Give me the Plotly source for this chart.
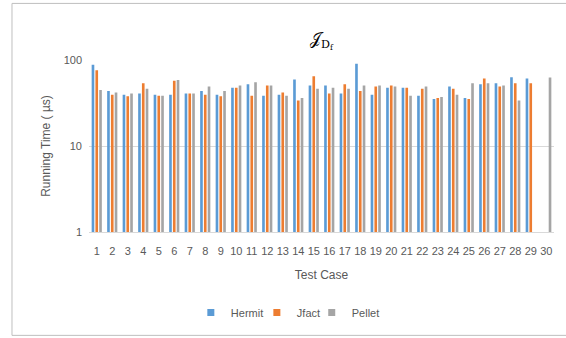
import plotly.graph_objects as go

cases = [str(i) for i in range(1, 31)]
hermit = [88, 43.5, 39.4, 40.8, 39.4, 39.4, 40.8, 43.5, 39.4, 47.5,
          52.4, 38.4, 39.4, 59.2, 50.5, 50.5, 40.8, 90.6, 39.4, 47.5,
          47.5, 38.4, 35.2, 49.2, 36.1, 52.4, 53.7, 63.1, 60.8, None]
jfact = [76, 39.4, 38, 53.7, 38.4, 57.2, 40.8, 39.4, 38, 47.5,
         38.4, 50.5, 41.9, 33.9, 64.8, 40.8, 52.4, 43.5, 49.2, 50.5,
         47.5, 46.2, 36.1, 46.2, 35.2, 60.8, 49.2, 53.7, 53.7, None]
pellet = [44.7, 41.9, 40.8, 46.2, 38.4, 58.7, 40.8, 49.2, 43.5, 50.5,
          55.2, 50.5, 38.4, 36.1, 46.2, 47.5, 46.2, 50.5, 50.5, 49.2,
          38.4, 49.2, 37.1, 39.4, 53.7, 53.7, 50.5, 33.9, None, 62.5]

names = ["Hermit", "Jfact", "Pellet"]
colors = ["#5B9BD5", "#ED7D31", "#A5A5A5"]
legend_ids = ["legend", "legend2", "legend3"]
legend_x = [0.219, 0.361, 0.479]

gray = "#595959"
font = "Liberation Sans, Arial, sans-serif"

fig = go.Figure()
for name, vals, col in zip(names, [hermit, jfact, pellet], colors):
    fig.add_bar(x=cases, y=vals, name=name, marker_color=col, marker_line_width=0,
                showlegend=False, legendgroup=name)
for name, col, lid in zip(names, colors, legend_ids):
    fig.add_scatter(x=[None], y=[None], mode="markers", name=name, legendgroup=name,
                    legend=lid, marker=dict(symbol="square", size=7, color=col))

legend_common = dict(orientation="h", xanchor="left", y=-0.46, yanchor="middle",
                     font=dict(size=11, color=gray), itemwidth=30, tracegroupgap=0,
                     bgcolor="rgba(0,0,0,0)")

fig.update_layout(
    width=566, height=338,
    margin=dict(l=89, r=12, t=60, b=105),
    paper_bgcolor="white", plot_bgcolor="white",
    barmode="group", bargap=0.27, bargroupgap=0.3,
    font=dict(family=font, size=11, color=gray),
    title=dict(text="𝒥<sub>D<sub>f</sub></sub>", x=0.5, xref="paper", y=0.885, yanchor="middle",
               font=dict(family="DejaVu Serif, serif", size=16, color="#000000")),
    showlegend=True,
    legend=dict(x=legend_x[0], **legend_common),
    legend2=dict(x=legend_x[1], **legend_common),
    legend3=dict(x=legend_x[2], **legend_common),
    xaxis=dict(type="category", showgrid=False, showline=True, linecolor="#D9D9D9",
               ticks="", ticklabelstandoff=9, tickfont=dict(size=11, color=gray),
               title=dict(text="Test Case", font=dict(size=12, color=gray), standoff=14)),
    yaxis=dict(type="log", range=[0, 2], tickvals=[1, 10, 100], ticktext=["1", "10", "100"],
               showgrid=True, gridcolor="#D9D9D9", zeroline=False, showline=False,
               ticks="", ticklabelstandoff=6, tickfont=dict(size=11, color=gray),
               title=dict(text="Running Time ( µs)", font=dict(size=12, color=gray), standoff=10)),
)

fig.add_shape(type="rect", xref="paper", yref="paper",
              x0=-0.1656, x1=1.1, y0=-0.601, y1=1.329,
              line=dict(color="#BFBFBF", width=1), layer="below")

fig.write_html("out.html")
